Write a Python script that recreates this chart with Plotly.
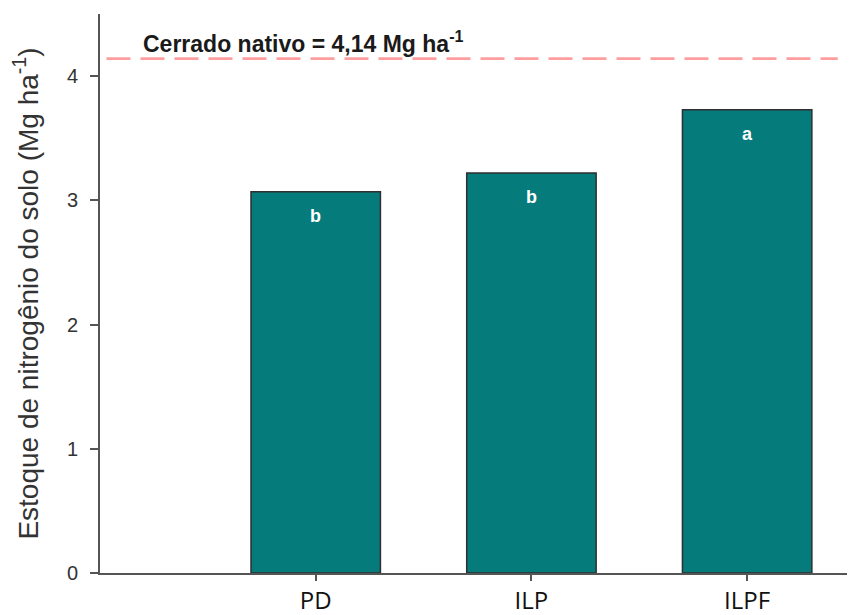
import plotly.graph_objects as go

categories = ["PD", "ILP", "ILPF"]
positions = [1, 2, 3]
values = [3.07, 3.22, 3.73]
letters = ["b", "b", "a"]
reference_value = 4.14
reference_label = "Cerrado nativo = 4,14 Mg ha<sup>-1</sup>"
y_ticks = [0, 1, 2, 3, 4]

fig = go.Figure()
fig.add_trace(go.Bar(
    x=positions, y=values, width=0.6,
    marker=dict(color="#067B7B", line=dict(color="#2f2f2f", width=1.5)),
    hoverinfo="skip", showlegend=False,
))

for xp, v, lt in zip(positions, values, letters):
    fig.add_annotation(xref="x", yref="y", x=xp, y=v, text="<b>" + lt + "</b>",
                       showarrow=False, yanchor="middle", yshift=-24,
                       font=dict(family="Arial", size=18, color="white"))

fig.add_shape(type="line", xref="x", yref="y",
              x0=0.03, x1=3.42, y0=reference_value, y1=reference_value,
              line=dict(color="#FF9E9E", width=2.8, dash="24px,10px"))
fig.add_annotation(xref="x", yref="y", x=0.19, y=reference_value,
                   text="<b>" + reference_label + "</b>", showarrow=False,
                   xanchor="left", yanchor="bottom", yshift=0,
                   font=dict(family="Arial", size=23, color="#1a1a1a"))

# the page body has an 8px margin, so the figure is offset by 8px
fig.update_layout(
    width=847, height=607,
    margin=dict(l=92, r=0, t=6, b=42),
    paper_bgcolor="white", plot_bgcolor="white",
    xaxis=dict(range=[0, 3.5], tickmode="array", tickvals=positions,
               ticktext=categories, showgrid=False, zeroline=False,
               showline=True, linecolor="#555555", linewidth=2,
               ticks="outside", ticklen=6, tickcolor="#555555", tickwidth=1.5,
               ticklabelstandoff=-1,
               tickfont=dict(family="Open Sans", size=24, color="#111111"),
               automargin=False),
    yaxis=dict(range=[0, 4.5], tickmode="array", tickvals=y_ticks,
               showgrid=False, zeroline=False,
               showline=True, linecolor="#555555", linewidth=2,
               ticks="outside", ticklen=8, tickcolor="#555555", tickwidth=1.5,
               ticklabelstandoff=8,
               tickfont=dict(family="Arial", size=20, color="#333333"),
               title=dict(text="Estoque de nitrogênio do solo (Mg ha<sup>-1</sup>)",
                          font=dict(family="Arial", size=28, color="#333333"),
                          standoff=21),
               automargin=False),
)

fig.write_html("out.html")
